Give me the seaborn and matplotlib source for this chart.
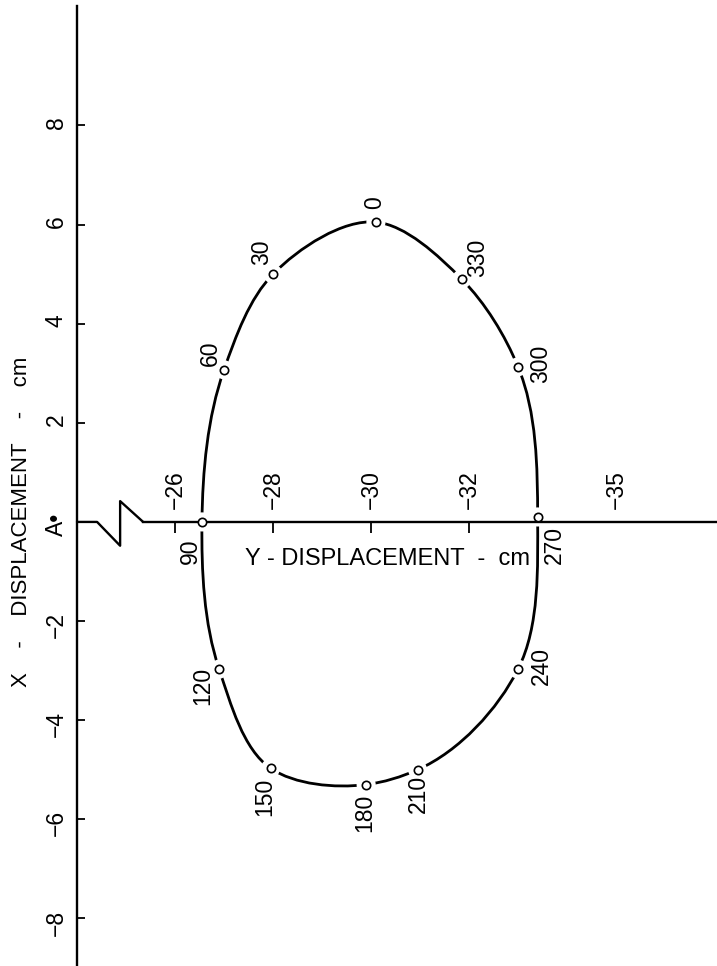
import numpy as np
import pandas as pd
import matplotlib
matplotlib.use("Agg")
import matplotlib.pyplot as plt
from matplotlib import font_manager
from matplotlib.path import Path
from matplotlib.patches import PathPatch
import seaborn as sns

# phase angle of each recorded point (deg)
angles = [0, 30, 60, 90, 120, 150, 180, 210, 240, 270, 300, 330]
# Y-displacement (cm), horizontal axis
y_disp = [-30.1, -28.0, -27.0, -26.55, -26.9, -27.95, -29.9, -30.95, -33.0, -33.4, -33.0, -31.85]
# X-displacement (cm), vertical axis
x_disp = [6.05, 5.0, 3.07, 0.0, -2.97, -4.97, -5.3, -5.0, -2.97, 0.1, 3.13, 4.9]

y_ticks = [-26, -28, -30, -32, -35]
y_tick_labels = ["\u221226", "\u221228", "\u221230", "\u221232", "\u221235"]
x_ticks = [8, 6, 4, 2, 0, -2, -4, -6, -8]
x_tick_labels = ["8", "6", "4", "2", "A\u2022", "\u22122", "\u22124", "\u22126", "\u22128"]

# zigzag break drawn on the Y axis next to A
break_u = [-24.0, -24.41, -24.88, -24.88, -25.35]
break_v = [0.0, 0.0, -0.48, 0.42, 0.0]

# where each angle label sits relative to its point (pixels)
label_offsets = {0: (-1, 19), 30: (-11, 22), 60: (-14, 17), 90: (-12, -29),
                 120: (-16, -17), 150: (-6, -29), 180: (-1, -28), 210: (1, -24),
                 240: (23, 3), 270: (17, -28), 300: (23, 3), 330: (16, 21)}

sns.set_theme(style="white")
avail = {f.name for f in font_manager.fontManager.ttflist}
narrow = "Liberation Sans Narrow" if "Liberation Sans Narrow" in avail else "Liberation Sans"
plt.rcParams["font.family"] = [narrow, "DejaVu Sans"]
plt.rcParams["text.color"] = "black"
plt.rcParams["xtick.color"] = "black"
plt.rcParams["ytick.color"] = "black"

df = pd.DataFrame({"y_disp": y_disp, "x_disp": x_disp, "angle": angles})

fig = plt.figure(figsize=(7.17, 9.66), dpi=100)
ax = fig.add_axes([77 / 717, 0, 640 / 717, 960 / 966])
ax.set_xlim(-24.0, -37.06)
ax.set_ylim(-8.96, 10.41)

# smooth closed curve through the points: cubic Bezier pieces with
# chord-weighted tangents (points are unevenly spaced round the loop)
pts = df[["y_disp", "x_disp"]].to_numpy()
n = len(pts)
tang = []
for i in range(n):
    a, b, c = pts[i - 1], pts[i], pts[(i + 1) % n]
    h1, h2 = np.linalg.norm(b - a), np.linalg.norm(c - b)
    tang.append((h2 * (b - a) / h1 + h1 * (c - b) / h2) / (h1 + h2))
verts = [pts[0]]
codes = [Path.MOVETO]
for i in range(n):
    j = (i + 1) % n
    h = np.linalg.norm(pts[j] - pts[i])
    verts += [pts[i] + tang[i] * h / 3, pts[j] - tang[j] * h / 3, pts[j]]
    codes += [Path.CURVE4] * 3
ax.add_patch(PathPatch(Path(verts, codes), fill=False, lw=2.0, color="black", zorder=1.5))

# white halo leaves a gap in the curve round each point, then the open circle
sns.scatterplot(data=df, x="y_disp", y="x_disp", s=190, color="white",
                edgecolor="none", zorder=2, ax=ax, clip_on=False, legend=False)
sns.scatterplot(data=df, x="y_disp", y="x_disp", s=36, color="white",
                edgecolor="black", linewidth=1.2, zorder=4, ax=ax, legend=False)

for a, u, v in zip(angles, y_disp, x_disp):
    dx, dy = label_offsets[a]
    ax.annotate(str(a), (u, v), xytext=(dx, dy), textcoords="offset pixels",
                rotation=90, ha="center", va="center", fontsize=16.5)

# axes: left spine full height, the Y axis runs through A
ax.spines[["right", "bottom"]].set_visible(False)
ax.spines["top"].set_position(("data", 0))
ax.spines["top"].set_bounds(-25.35, -37.06)
for s in ["top", "left"]:
    ax.spines[s].set_linewidth(1.7)
    ax.spines[s].set_color("black")
ax.plot(break_u, break_v, color="black", lw=1.7, clip_on=False, zorder=2.5)

ax.xaxis.set_ticks_position("top")
ax.set_xticks(y_ticks, y_tick_labels)
ax.set_yticks(x_ticks, x_tick_labels)
ax.tick_params(axis="x", direction="in", length=8, width=1.3, pad=9, labelsize=16.5,
               labelrotation=90, top=True, bottom=False, labeltop=True, labelbottom=False)
ax.tick_params(axis="y", direction="in", length=6, width=1.3, pad=6.5, labelsize=16.5,
               labelrotation=90, left=True, right=False)
for t in ax.xaxis.get_major_ticks():
    if t.get_loc() == -35:
        t.tick2line.set_visible(False)
ax.set_xlabel("")
ax.set_ylabel("")

fig.text(245 / 717, 1 - 565 / 966, "Y - DISPLACEMENT  -  cm", ha="left", va="baseline",
         fontsize=17)
fig.text(27 / 717, 1 - 521.5 / 966, "X    -    DISPLACEMENT    -    cm", rotation=90,
         rotation_mode="anchor", ha="center", va="baseline", fontsize=16)

fig.savefig("out.png", dpi=100)
